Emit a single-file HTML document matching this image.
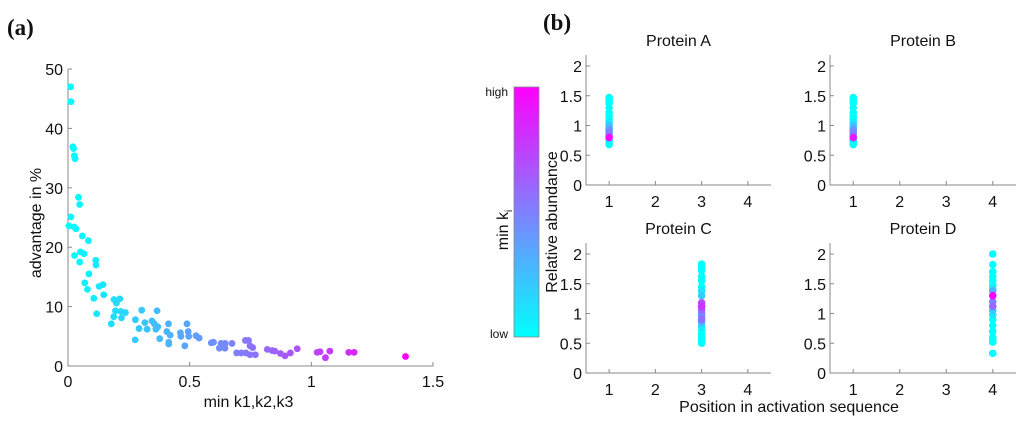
<!DOCTYPE html>
<html><head><meta charset="utf-8"><style>
html,body{margin:0;padding:0;background:#fff;width:1024px;height:424px;overflow:hidden}
svg text{font-family:"Liberation Sans",sans-serif;fill:#111}
</style></head><body>
<svg id="fig" width="1024" height="424" xmlns="http://www.w3.org/2000/svg">
<defs><linearGradient id="cg" x1="0" y1="1" x2="0" y2="0"><stop offset="0" stop-color="#00ffff"/><stop offset="1" stop-color="#ff00ff"/></linearGradient></defs>
<text x="7" y="35" style="font-family:'Liberation Serif',serif;font-weight:bold;font-size:23px">(a)</text>
<text x="543" y="30" style="font-family:'Liberation Serif',serif;font-weight:bold;font-size:23px">(b)</text>
<g id="pa"></g>
<g id="pb"></g>
<rect x="514" y="87" width="25" height="250" fill="url(#cg)" stroke="#888" stroke-width="0.8"/>
<text x="508" y="96" text-anchor="end" font-size="12">high</text>
<text x="508" y="338" text-anchor="end" font-size="12">low</text>
<g transform="translate(508,230) rotate(-90)"><text x="0" y="0" text-anchor="middle" font-size="16">min k<tspan font-size="10" baseline-shift="-4">i</tspan></text></g>
<text transform="translate(557,222) rotate(-90)" text-anchor="middle" font-size="16">Relative abundance</text>
<text x="789" y="412" text-anchor="middle" font-size="16">Position in activation sequence</text>
</svg>
<script>
const aX=[0.011,0.012,0.02,0.023,0.026,0.029,0.043,0.048,0.012,0.004,0.025,0.033,0.059,0.084,0.051,0.066,0.027,0.048,0.114,0.115,0.086,0.144,0.128,0.069,0.08,0.147,0.106,0.189,0.213,0.199,0.118,0.195,0.217,0.236,0.188,0.22,0.178,0.303,0.366,0.277,0.316,0.345,0.355,0.369,0.292,0.325,0.361,0.413,0.406,0.42,0.377,0.276,0.414,0.414,0.462,0.464,0.489,0.494,0.496,0.48,0.526,0.539,0.589,0.598,0.629,0.622,0.646,0.674,0.645,0.693,0.712,0.729,0.742,0.748,0.759,0.731,0.748,0.77,0.819,0.839,0.85,0.873,0.892,0.914,0.942,1.024,1.036,1.058,1.076,1.154,1.176,1.387];
const aY=[47.0,44.5,36.9,36.6,35.4,34.9,28.4,27.2,25.1,23.6,23.4,23.1,21.9,21.1,19.2,18.9,18.6,17.5,17.8,17.0,15.5,13.7,13.4,14.0,12.9,12.0,11.4,11.2,11.3,10.6,8.8,9.3,9.2,9.0,8.3,8.1,7.1,9.4,9.3,7.8,7.3,7.6,7.1,6.6,6.3,6.2,6.2,7.1,5.8,5.2,4.6,4.4,4.0,3.7,5.6,5.0,7.1,5.8,5.0,3.4,5.1,4.7,3.9,4.0,3.8,3.0,3.8,3.8,3.0,2.2,2.2,4.3,4.3,3.4,3.1,2.2,1.9,1.9,2.8,2.6,2.5,2.1,1.7,2.2,2.9,2.3,2.4,1.4,2.5,2.3,2.3,1.6];
const aXTicks=[0,0.5,1,1.5];
const aXTickLabels=["0","0.5","1","1.5"];
const aYTicks=[0,10,20,30,40,50];
const proteins=["Protein A","Protein B","Protein C","Protein D"];
const positions=[1,1,3,4];
const bVals=[
[1.47,1.43,1.38,1.3,1.22,1.15,1.1,1.05,1.0,0.95,0.92,0.88,0.85,0.8,0.76,0.72,0.68],
[1.47,1.43,1.38,1.3,1.22,1.15,1.1,1.05,1.0,0.95,0.92,0.88,0.85,0.8,0.76,0.72,0.68],
[1.83,1.78,1.72,1.62,1.55,1.45,1.38,1.3,1.18,1.12,1.06,1.0,0.95,0.9,0.85,0.78,0.72,0.65,0.6,0.55,0.5],
[2.0,1.82,1.7,1.62,1.55,1.48,1.42,1.38,1.3,1.2,1.12,1.05,0.98,0.9,0.8,0.7,0.6,0.55,0.52,0.33]];
const bT=[
[0,0,0,0,0,0,0,0.1,0.2,0.3,0.4,0.5,0.35,1.0,0.1,0,0],
[0,0,0,0,0,0,0,0.1,0.2,0.3,0.4,0.5,0.35,0.9,0.1,0,0],
[0,0,0,0,0,0,0.1,0.2,0.7,0.8,0.6,0.45,0.4,0.55,0.3,0.1,0,0,0,0,0],
[0,0,0,0,0,0,0.1,0.3,1.0,0.5,0.6,0.2,0.1,0,0,0,0,0,0,0]];
const bXTicks=[1,2,3,4];
const bYTicks=[0,0.5,1,1.5,2];
const bYTickLabels=["0","0.5","1","1.5","2"];

const NS="http://www.w3.org/2000/svg";
function el(p,t,a){const e=document.createElementNS(NS,t);for(const k in a)e.setAttribute(k,a[k]);p.appendChild(e);return e;}
function col(t){t=Math.max(0,Math.min(1,t));return `rgb(${Math.round(255*t)},${Math.round(255*(1-t))},255)`;}
const axc="#888";
const pa=document.getElementById('pa');
const ax=v=>68+v/1.5*365, ay=v=>366-v/50*297;
let l=el(pa,'path',{d:`M${ax(0)},${ay(50)}V${ay(0)}H${ax(1.5)}`,fill:'none',stroke:axc,'stroke-width':1});


aXTicks.forEach((v,i)=>{
 el(pa,'line',{x1:ax(v),x2:ax(v),y1:ay(0),y2:ay(0)-4,stroke:axc});
 const t=el(pa,'text',{x:ax(v),y:387,'text-anchor':'middle','font-size':16});t.textContent=aXTickLabels[i];
 
 
});
aYTicks.forEach(v=>{
 el(pa,'line',{x1:ax(0),x2:ax(0)+4,y1:ay(v),y2:ay(v),stroke:axc});
 const t=el(pa,'text',{x:63,y:ay(v)+6,'text-anchor':'end','font-size':16});t.textContent=v;
 
 
});
let tt=el(pa,'text',{x:ax(0.75)-2,y:407,'text-anchor':'middle','font-size':16});tt.textContent='min k1,k2,k3';


tt=el(pa,'text',{transform:'translate(41,223) rotate(-90)','text-anchor':'middle','font-size':16});tt.textContent='advantage in %';


aX.forEach((x,i)=>{
 const c=el(pa,'circle',{cx:ax(x),cy:ay(aY[i]),r:3.4,fill:col(x/1.387)});
 
 
});
const pb=document.getElementById('pb');
const L=[[586,771,185,55],[830,1016,185,55],[586,771,373,243],[830,1016,373,243]];
proteins.forEach((name,k)=>{
 const [x0,x1,y0,yt]=L[k];
 const bx=v=>x0+(v-0.5)/4*(x1-x0), by=v=>y0-v/2*(y0-yt-11);
 const g=el(pb,'g',{});
 
 
 el(g,'path',{d:`M${x0},${yt}V${y0}H${x1}`,fill:'none',stroke:axc,'stroke-width':1});
 const ti=el(g,'text',{x:(x0+x1)/2,y:yt-9,'text-anchor':'middle','font-size':16});ti.textContent=name;
 
 
 bXTicks.forEach(v=>{
  el(g,'line',{x1:bx(v),x2:bx(v),y1:y0,y2:y0-4,stroke:axc});
  const t=el(g,'text',{x:bx(v),y:y0+22,'text-anchor':'middle','font-size':16});t.textContent=v;
  
  
 });
 bYTicks.forEach((v,i)=>{
  el(g,'line',{x1:x0,x2:x0+4,y1:by(v),y2:by(v),stroke:axc});
  const t=el(g,'text',{x:x0-4,y:by(v)+6,'text-anchor':'end','font-size':16});t.textContent=bYTickLabels[i];
  
  
 });
 const idx=bVals[k].map((v,i)=>i).sort((a,b)=>bT[k][a]-bT[k][b]);
 idx.forEach(i=>{
  const c=el(g,'circle',{cx:bx(positions[k]),cy:by(bVals[k][i]),r:3.8,fill:col(bT[k][i])});
  
  
 });
});
</script>
</body></html>
